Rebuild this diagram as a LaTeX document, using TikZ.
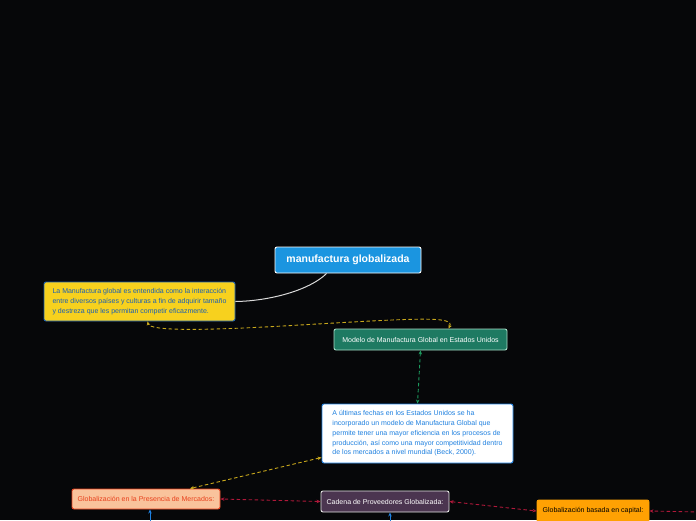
\documentclass[tikz,border=0pt]{standalone}
\usepackage{fontspec}
\setmainfont{Liberation Sans}
\usetikzlibrary{arrows.meta,calc}
\definecolor{bg}{HTML}{060709}
\definecolor{rootblue}{HTML}{1B95E0}
\definecolor{yel}{HTML}{F7D11E}
\definecolor{dblue}{HTML}{1A5FB4}
\definecolor{teal}{HTML}{1E7A62}
\definecolor{tealb}{HTML}{A6DCC6}
\definecolor{wblue}{HTML}{1E80E0}
\definecolor{peach}{HTML}{F9C39C}
\definecolor{redor}{HTML}{E8401C}
\definecolor{purp}{HTML}{4B3550}
\definecolor{orng}{HTML}{FFA103}
\definecolor{dred}{HTML}{B0183A}
\definecolor{dyel}{HTML}{C8A81C}
\definecolor{dgreen}{HTML}{1C9A5E}
\tikzset{
  box/.style={rectangle, rounded corners=2pt, line width=0.9pt, inner sep=2pt, align=left, font=\fontsize{7}{9.7}\selectfont},
  con/.style={dashed, dash pattern=on 3.5pt off 2.5pt, line width=0.9pt, {Stealth[length=4pt,width=3.5pt]}-{Stealth[length=4pt,width=3.5pt]}},
}
\begin{document}
\begin{tikzpicture}[x=1pt,y=-1pt]
\fill[bg] (0,0) rectangle (696,520);
\useasboundingbox (0,0) rectangle (696,520);
\clip (0,0) rectangle (696,520);

\node[box, draw=white, fill=rootblue, text=white, minimum width=146pt, minimum height=26pt, align=center, font=\bfseries\fontsize{10.5}{12}\selectfont] (root) at (348,260) {manufactura globalizada};

\node[box, draw=dblue, fill=yel, text=dblue, minimum width=191pt, minimum height=39pt] (lam) at (139.5,301.5) {La Manufactura global es entendida como la interacción\\entre diversos países y culturas a fin de adquirir tamaño\\y destreza que les permitan competir eficazmente.};

\node[box, draw=tealb, fill=teal, text=white, minimum width=173pt, minimum height=21pt, align=center] (mod) at (420.5,339.5) {Modelo de Manufactura Global en Estados Unidos};

\node[box, draw=wblue, fill=white, text=wblue, minimum width=191pt, minimum height=59pt] (ult) at (417.5,433.5) {A últimas fechas en los Estados Unidos se ha\\incorporado un modelo de Manufactura Global que\\permite tener una mayor eficiencia en los procesos de\\producción, así como una mayor competitividad dentro\\de los mercados a nivel mundial (Beck, 2000).};

\node[box, draw=redor, fill=peach, text=redor, minimum width=148pt, minimum height=20pt, align=center] (pres) at (146,499) {Globalización en la Presencia de Mercados:};

\node[box, draw=white!80!gray, fill=purp, text=white, minimum width=128pt, minimum height=21pt, align=center] (cad) at (385,501.5) {Cadena de Proveedores Globalizada:};

\node[box, draw=orng, fill=orng, text=black, minimum width=112pt, minimum height=22pt, align=center] (cap) at (593,511) {Globalización basada en capital:};

\coordinate (capout) at (700,512);
\coordinate (presbot) at (150,525);
\coordinate (cadbot) at (390,525);

% connectors
\draw[white!70!gray, line width=1pt] ($(root.south west)+(52,0)$) .. controls (310,290) and (270,301) .. (lam.east);
\draw[con, dyel] ($(mod.north)+(28,0)$) .. controls (455,316) and (420,318) .. (300,325) .. controls (200,331) and (150,331) .. ($(lam.south)+(8,0)$);
\draw[con, dgreen] (mod.south) -- (ult.north);
\draw[con, dyel] ($(ult.west)+(0,24)$) -- ($(pres.north)+(44,0)$);
\draw[con, dred] (cad.west) -- (pres.east);
\draw[con, dred] (cad.east) -- (cap.west);
\draw[dashed, dash pattern=on 3.5pt off 2.5pt, line width=0.9pt, dred, -{Stealth[length=4pt,width=3.5pt]}] (capout) -- (cap.east);
\draw[line width=0.9pt, wblue, -{Stealth[length=4pt,width=3.5pt]}] (presbot) -- ($(pres.south)+(4,0)$);
\draw[line width=0.9pt, wblue, -{Stealth[length=4pt,width=3.5pt]}] (cadbot) -- ($(cad.south)+(5,0)$);
\end{tikzpicture}
\end{document}
